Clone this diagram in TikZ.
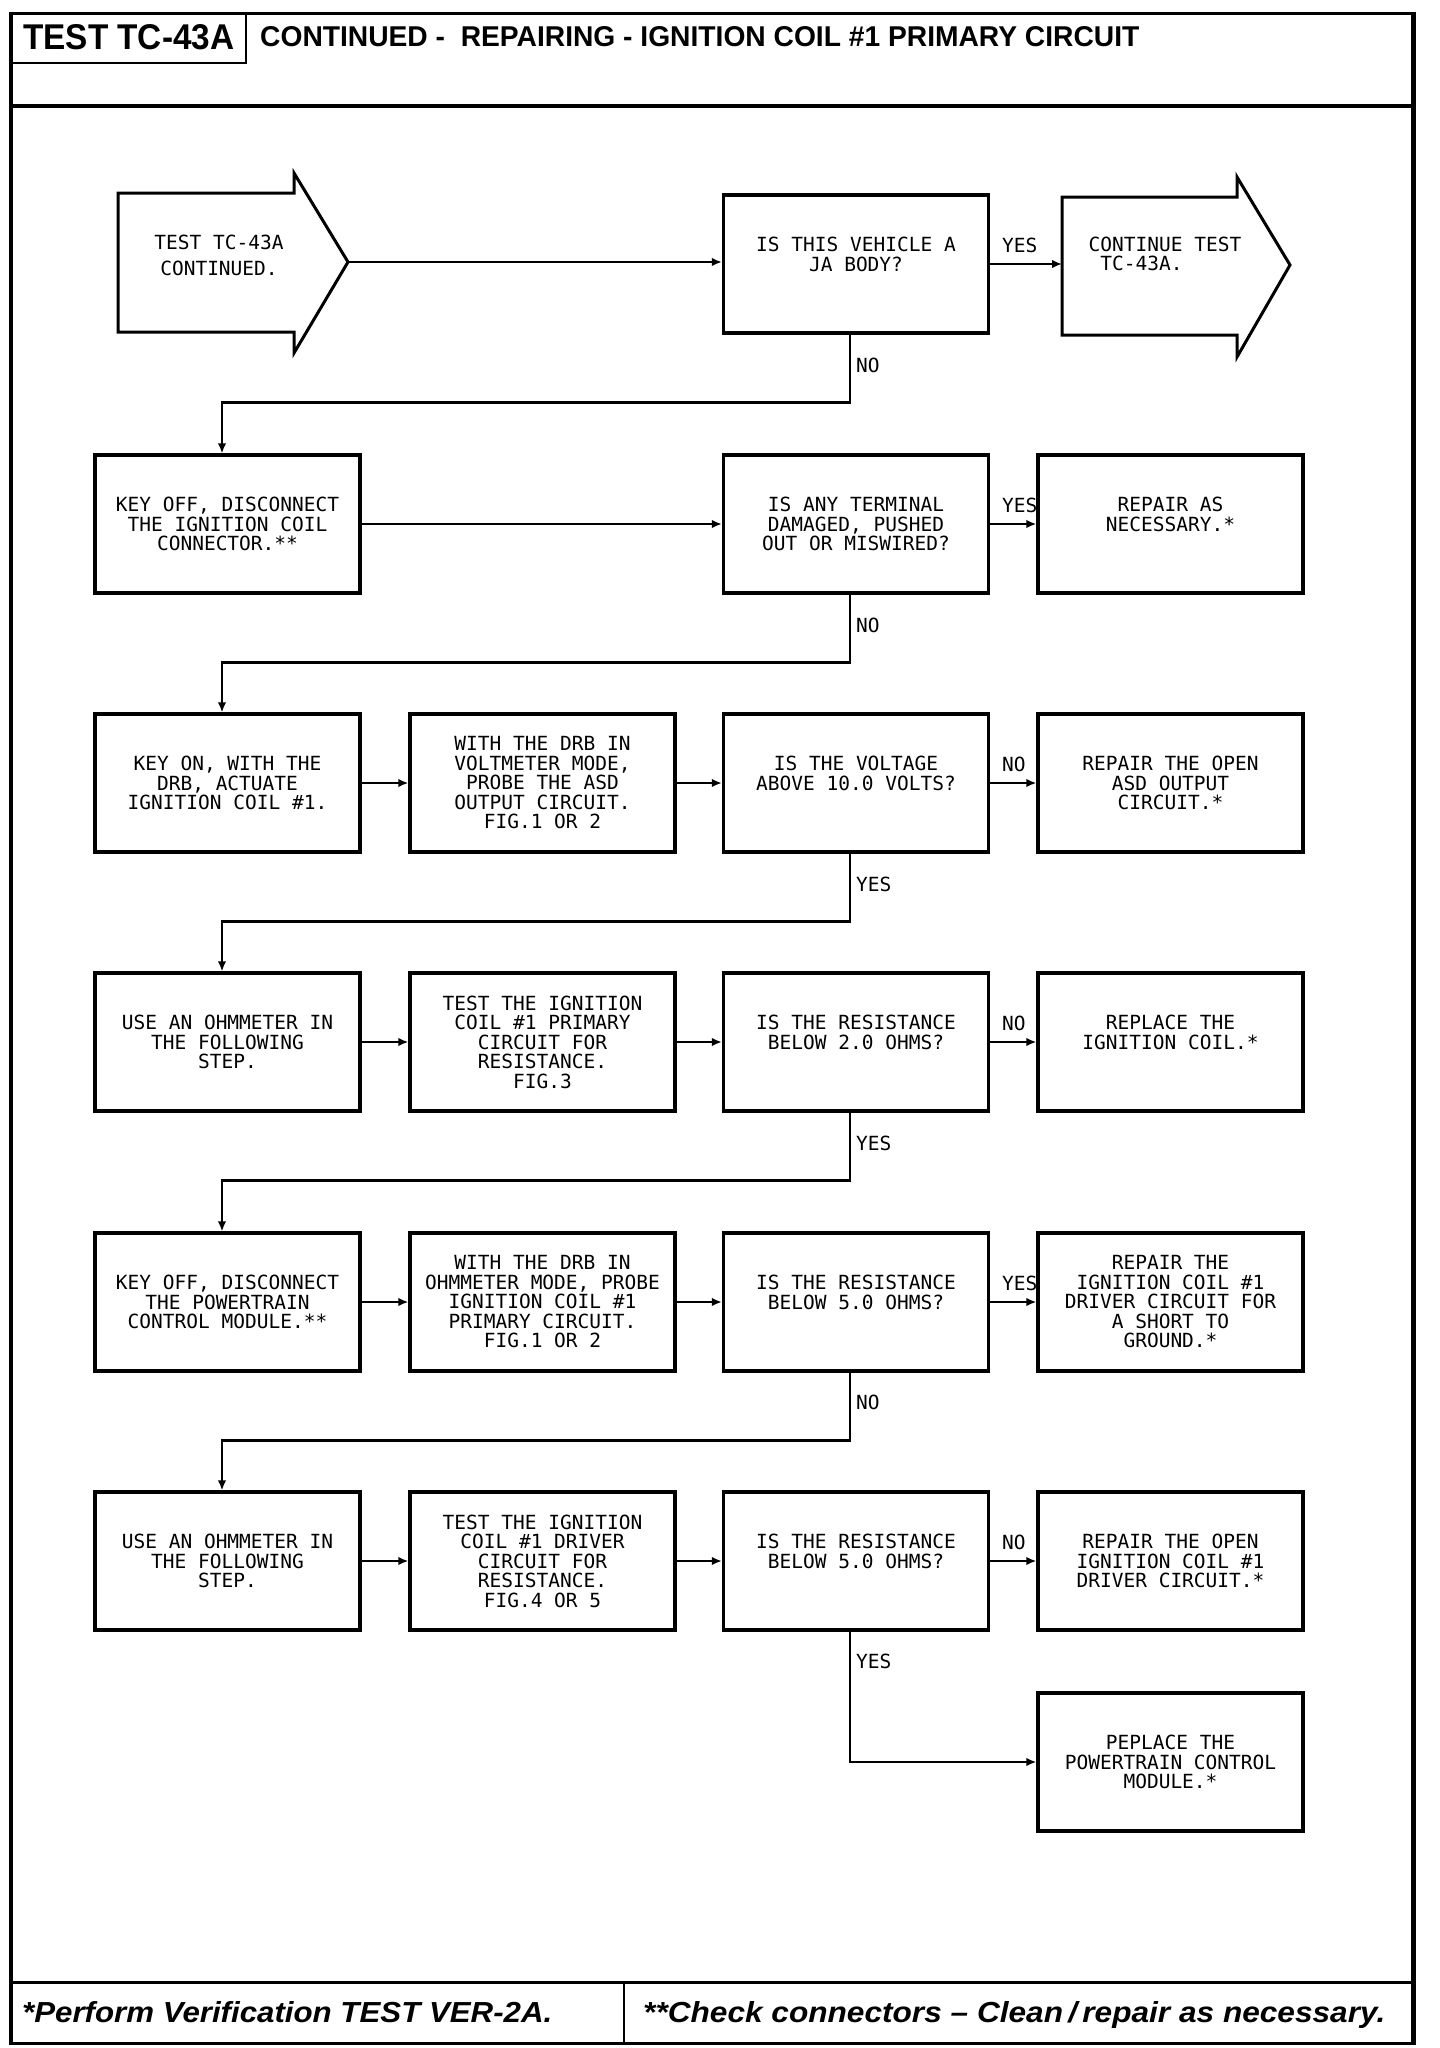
\documentclass[tikz,border=0pt]{standalone}
\usepackage{fontspec}
\usepackage{graphicx}
\newfontfamily\monof{DejaVu Sans Mono}
\newfontfamily\hfont{Liberation Sans}
\usetikzlibrary{arrows.meta}
\begin{document}
\begin{tikzpicture}[x=1pt,y=-1pt,
  txt/.style={font=\monof\fontsize{19.5}{19.5}\selectfont},
  box/.style={txt, draw, line width=3.2pt, minimum width=265pt, minimum height=138pt, inner sep=0pt, align=center},
  conn/.style={line width=2.5pt, -{Latex[length=10pt,width=8.5pt]}},
  lbl/.style={txt, inner sep=0pt, anchor=west},
  bigarrow/.style={line width=3pt, line join=miter},
  hd/.style={inner sep=0pt, anchor=base west}
]
\useasboundingbox (0,0) rectangle (1440,2048);
\fill[white] (0,0) rectangle (1440,2048);

% frame
\draw[line width=3pt] (9.25,13) -- (1415.5,13);
\draw[line width=3.5pt] (11,11.5) -- (11,2044.5);
\draw[line width=5pt] (1413,11.5) -- (1413,2044.5);
\draw[line width=3pt] (9.25,2043) -- (1415.5,2043);
\draw[line width=3.5pt] (11,106) -- (1413,106);
\draw[line width=2.5pt] (246,13) -- (246,63) -- (11,63);
\draw[line width=3pt] (11,1982) -- (1413,1982);
\draw[line width=2.5pt] (624,1982) -- (624,2043);

% header and footer texts
\node[hd] (tid) at (23,49) {\resizebox{211pt}{25pt}{\hfont\bfseries TEST TC-43A}};
\node[hd] (ttl) at (260,46) {\resizebox{879pt}{20pt}{\hfont\bfseries CONTINUED -\ \ REPAIRING - IGNITION COIL \#1 PRIMARY CIRCUIT}};
\node[hd] (f1) at (22,2022) {\resizebox{530pt}{21pt}{\hfont\bfseries\itshape *Perform Verification TEST VER-2A.}};
\node[hd] (f2) at (643,2022) {\resizebox{742pt}{21pt}{\hfont\bfseries\itshape **Check connectors – Clean\,/\,repair as necessary.}};

% start arrow
\draw[bigarrow] (118,193) -- (294,193) -- (294,173) -- (348,262) -- (294,353) -- (294,332) -- (118,332) -- cycle;
\coordinate (stip) at (348,262);
\node[txt, align=center, font=\monof\fontsize{19.5}{26}\selectfont, inner sep=0pt] (start) at (219,255) {TEST TC-43A\\CONTINUED.};

% continue arrow
\draw[bigarrow] (1062,197) -- (1237,197) -- (1237,177) -- (1290,265) -- (1237,357) -- (1237,335) -- (1062,335) -- cycle;
\coordinate (ctail) at (1062,264);
\node[txt, align=left, inner sep=0pt] (cont) at (1165,254) {CONTINUE TEST\\\phantom{T}TC-43A.};

% row 1
\node[box] (Q1) at (856,264) {IS THIS VEHICLE A\\JA BODY?\\\mbox{}};

% row 2
\node[box] (A2) at (227.5,524) {KEY OFF, DISCONNECT\\THE IGNITION COIL\\CONNECTOR.**};
\node[box] (Q2) at (856,524) {IS ANY TERMINAL\\DAMAGED, PUSHED\\OUT OR MISWIRED?};
\node[box] (R2) at (1170.5,524) {REPAIR AS\\NECESSARY.*\\\mbox{}};

% row 3
\node[box] (A3) at (227.5,783) {KEY ON, WITH THE\\DRB, ACTUATE\\IGNITION COIL \#1.};
\node[box] (B3) at (542.5,783) {WITH THE DRB IN\\VOLTMETER MODE,\\PROBE THE ASD\\OUTPUT CIRCUIT.\\FIG.1 OR 2};
\node[box] (Q3) at (856,783) {IS THE VOLTAGE\\ABOVE 10.0 VOLTS?\\\mbox{}};
\node[box] (R3) at (1170.5,783) {REPAIR THE OPEN\\ASD OUTPUT\\CIRCUIT.*};

% row 4
\node[box] (A4) at (227.5,1042) {USE AN OHMMETER IN\\THE FOLLOWING\\STEP.};
\node[box] (B4) at (542.5,1042) {TEST THE IGNITION\\COIL \#1 PRIMARY\\CIRCUIT FOR\\RESISTANCE.\\FIG.3};
\node[box] (Q4) at (856,1042) {IS THE RESISTANCE\\BELOW 2.0 OHMS?\\\mbox{}};
\node[box] (R4) at (1170.5,1042) {REPLACE THE\\IGNITION COIL.*\\\mbox{}};

% row 5
\node[box] (A5) at (227.5,1302) {KEY OFF, DISCONNECT\\THE POWERTRAIN\\CONTROL MODULE.**};
\node[box] (B5) at (542.5,1302) {WITH THE DRB IN\\OHMMETER MODE, PROBE\\IGNITION COIL \#1\\PRIMARY CIRCUIT.\\FIG.1 OR 2};
\node[box] (Q5) at (856,1302) {IS THE RESISTANCE\\BELOW 5.0 OHMS?\\\mbox{}};
\node[box] (R5) at (1170.5,1302) {REPAIR THE\\IGNITION COIL \#1\\DRIVER CIRCUIT FOR\\A SHORT TO\\GROUND.*};

% row 6
\node[box] (A6) at (227.5,1561) {USE AN OHMMETER IN\\THE FOLLOWING\\STEP.};
\node[box] (B6) at (542.5,1561) {TEST THE IGNITION\\COIL \#1 DRIVER\\CIRCUIT FOR\\RESISTANCE.\\FIG.4 OR 5};
\node[box] (Q6) at (856,1561) {IS THE RESISTANCE\\BELOW 5.0 OHMS?\\\mbox{}};
\node[box] (R6) at (1170.5,1561) {REPAIR THE OPEN\\IGNITION COIL \#1\\DRIVER CIRCUIT.*};

% row 7
\node[box] (R7) at (1170.5,1762) {PEPLACE THE\\POWERTRAIN CONTROL\\MODULE.*};

% connectors
\draw[conn] (stip) -- (stip -| Q1.west);
\draw[conn] (Q1.east) -- (Q1.east -| ctail);
\draw[conn] ([xshift=-6pt]Q1.south) -- ++(0,68) -| ([xshift=-5.5pt]A2.north);

\draw[conn] (A2) -- (Q2);
\draw[conn] (Q2) -- (R2);
\draw[conn] ([xshift=-6pt]Q2.south) -- ++(0,68) -| ([xshift=-5.5pt]A3.north);

\draw[conn] (A3) -- (B3);
\draw[conn] (B3) -- (Q3);
\draw[conn] (Q3) -- (R3);
\draw[conn] ([xshift=-6pt]Q3.south) -- ++(0,68) -| ([xshift=-5.5pt]A4.north);

\draw[conn] (A4) -- (B4);
\draw[conn] (B4) -- (Q4);
\draw[conn] (Q4) -- (R4);
\draw[conn] ([xshift=-6pt]Q4.south) -- ++(0,68) -| ([xshift=-5.5pt]A5.north);

\draw[conn] (A5) -- (B5);
\draw[conn] (B5) -- (Q5);
\draw[conn] (Q5) -- (R5);
\draw[conn] ([xshift=-6pt]Q5.south) -- ++(0,68) -| ([xshift=-5.5pt]A6.north);

\draw[conn] (A6) -- (B6);
\draw[conn] (B6) -- (Q6);
\draw[conn] (Q6) -- (R6);
\draw[conn] ([xshift=-6pt]Q6.south) |- (R7.west);

% labels
\node[lbl] (l1s) at (1002,245) {YES};
\node[lbl] (l1d) at (856,365) {NO};
\node[lbl] (l2s) at (1002,505) {YES};
\node[lbl] (l2d) at (856,625) {NO};
\node[lbl] (l3s) at (1002,764) {NO};
\node[lbl] (l3d) at (856,884) {YES};
\node[lbl] (l4s) at (1002,1023) {NO};
\node[lbl] (l4d) at (856,1143) {YES};
\node[lbl] (l5s) at (1002,1283) {YES};
\node[lbl] (l5d) at (856,1402) {NO};
\node[lbl] (l6s) at (1002,1542) {NO};
\node[lbl] (l6d) at (856,1661) {YES};
\end{tikzpicture}
\end{document}
